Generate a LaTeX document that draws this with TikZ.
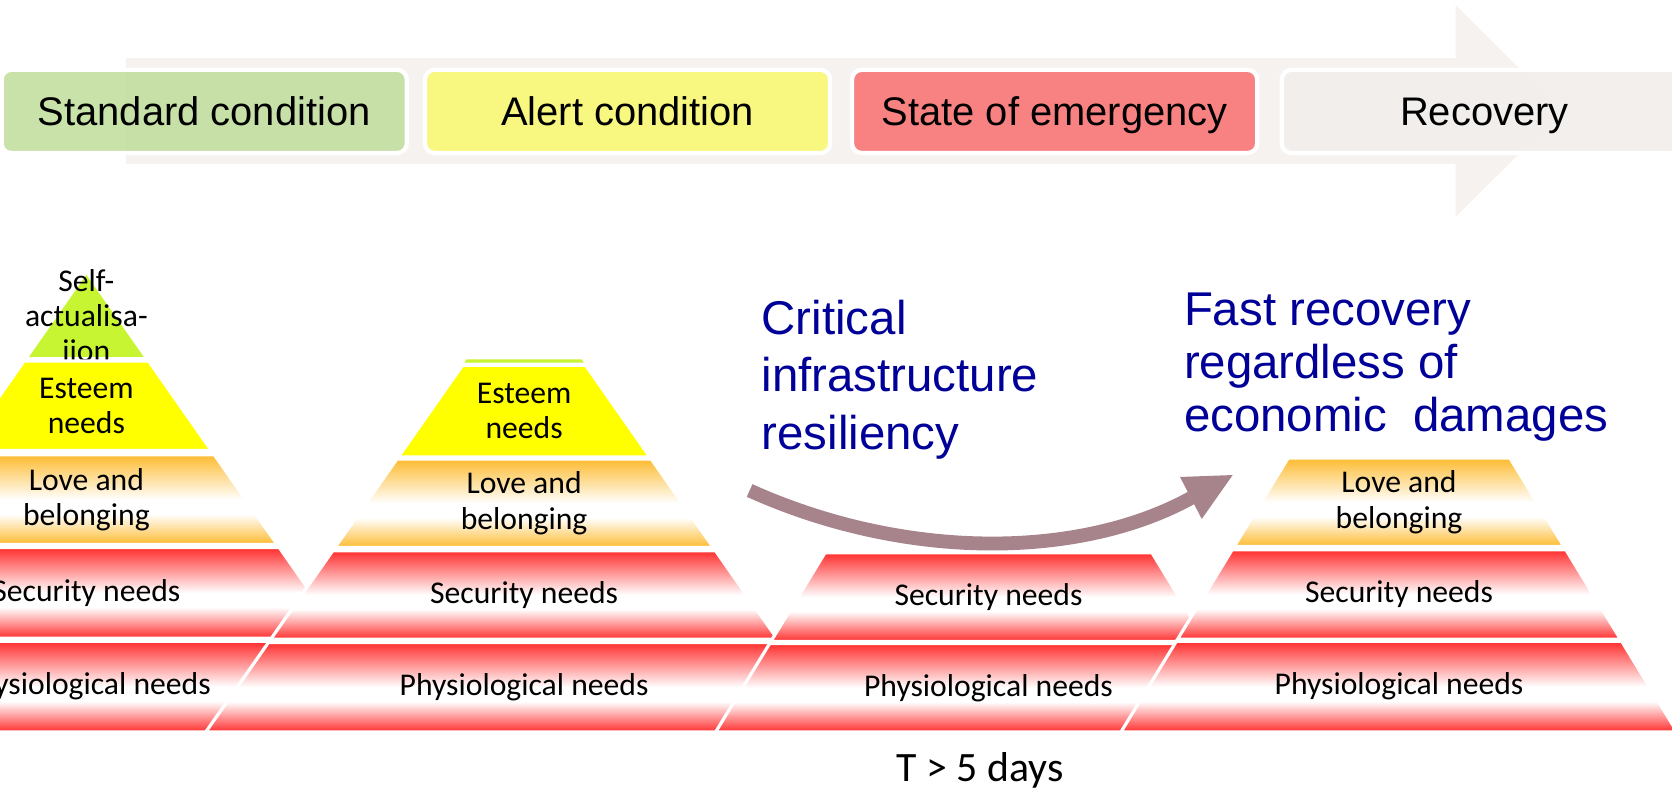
\documentclass[tikz,border=0pt]{standalone}
\usepackage{fontspec}
\setmainfont{Carlito}
\newfontfamily\arialfont{Liberation Sans}
\usepackage{tikz}

\definecolor{bandred}{HTML}{FF2E2E}
\definecolor{bandorange}{HTML}{FDBB30}
\definecolor{esteemyellow}{HTML}{FFFF00}
\definecolor{selfgreen}{HTML}{C8F532}
\definecolor{stdgreen}{HTML}{C3DFA2}
\definecolor{alertyellow}{HTML}{F9F877}
\definecolor{emergred}{HTML}{F97979}
\definecolor{recovgray}{HTML}{F1EEEC}
\definecolor{bannergray}{HTML}{F5F2F0}
\definecolor{textblue}{HTML}{000099}
\definecolor{bendarrow}{HTML}{A7838C}

\pgfdeclareverticalshading{redshade}{100bp}{color(0bp)=(bandred); color(25bp)=(bandred);
  color(42bp)=(white); color(50bp)=(white); color(75bp)=(bandred); color(100bp)=(bandred)}
\pgfdeclareverticalshading{orangeshade}{100bp}{color(0bp)=(bandorange); color(25bp)=(bandorange);
  color(42bp)=(white); color(50bp)=(white); color(75bp)=(bandorange); color(100bp)=(bandorange)}

% one band of a pyramid: axis, apex, slope, top, bottom, style, name, text
\newcommand{\pyrlayer}[8]{%
  \path[#6] ({#1-#3*(#4-#2)},#4) -- ({#1+#3*(#4-#2)},#4) -- ({#1+#3*(#5-#2)},#5)
    -- ({#1-#3*(#5-#2)},#5) -- cycle;
  \node[lbl] (#7) at (#1,{(#4+#5)/2}) {#8};}

\tikzset{
  layer/.style={draw=white, line width=0.06cm},
  redlayer/.style={layer, shade, shading=redshade},
  orangelayer/.style={layer, shade, shading=orangeshade},
  esteemlayer/.style={layer, fill=esteemyellow},
  selflayer/.style={layer, fill=selfgreen},
  lbl/.style={font=\fontsize{16.9}{18.8}\selectfont, align=center, inner sep=0pt},
  stage/.style={draw=white, line width=0.08cm, rounded corners=0.18cm,
    minimum width=7.6cm, minimum height=1.56cm, inner sep=0pt,
    text height=15.4pt, text depth=0pt, fill opacity=0.92, text opacity=1,
    font=\arialfont\fontsize{21.3}{25}\selectfont},
  bluetext/.style={text=textblue, align=left, inner sep=0pt, anchor=north west}
}

\begin{document}
\begin{tikzpicture}[x=0.02cm,y=-0.02cm]
\useasboundingbox (0,0) rectangle (1568,742);

% timeline
\fill[bannergray] (118,54.5) -- (1365,54.5) -- (1365,4.7) -- (1465,104) -- (1365,203.5)
  -- (1365,154) -- (118,154) -- cycle;
\node[stage, fill=stdgreen] (standard) at (191.5,104.5) {Standard condition};
\node[stage, fill=alertyellow] (alert) at (588.5,104.5) {Alert condition};
\node[stage, fill=emergred] (emergency) at (989,104.5) {State of emergency};
\node[stage, fill=recovgray] (recovery) at (1392,104.5) {Recovery};

% pyramids
\pyrlayer{81}{255}{0.7}{255}{336.5}{selflayer}{selfA}{Self-\\actualisa-\\iion}
\pyrlayer{81}{255}{0.7}{338.5}{422.5}{esteemlayer}{esteemA}{Esteem\\needs}
\pyrlayer{81}{255}{0.7}{426.5}{510.5}{orangelayer}{loveA}{Love and\\belonging}
\pyrlayer{81}{255}{0.7}{513.5}{598.5}{redlayer}{securityA}{Security needs}
\pyrlayer{81}{255}{0.7}{601.5}{686.5}{redlayer}{physioA}{Physiological needs}

\fill[selfgreen] ({491.5-0.7*77},337) -- ({491.5+0.7*77},337) -- ({491.5+0.7*80},340)
  -- ({491.5-0.7*80},340) -- cycle;
\pyrlayer{491.5}{260}{0.7}{342.5}{428.5}{esteemlayer}{esteemB}{Esteem\\needs}
\pyrlayer{491.5}{260}{0.7}{430.5}{513.5}{orangelayer}{loveB}{Love and\\belonging}
\pyrlayer{491.5}{260}{0.7}{516.5}{599.5}{redlayer}{securityB}{Security needs}
\pyrlayer{491.5}{260}{0.7}{602.5}{686.5}{redlayer}{physioB}{Physiological needs}

\pyrlayer{927}{267}{0.61}{518.5}{601.5}{redlayer}{securityC}{Security needs}
\pyrlayer{927}{267}{0.61}{603.5}{686.5}{redlayer}{physioC}{Physiological needs}

\pyrlayer{1312}{259}{0.61}{429.5}{512.5}{orangelayer}{loveD}{Love and\\belonging}
\pyrlayer{1312}{259}{0.61}{515.5}{599.5}{redlayer}{securityD}{Security needs}
\pyrlayer{1312}{259}{0.61}{601.5}{686.5}{redlayer}{physioD}{Physiological needs}

% captions
\node[bluetext, font=\arialfont\fontsize{25.3}{30.7}\selectfont] (critical) at (714,281)
  {Critical\\infrastructure\\resiliency};
\node[bluetext, font=\arialfont\fontsize{25.3}{28.2}\selectfont] (fast) at (1110,274.6)
  {Fast recovery\\regardless of\\economic\ \ damages};
\node[font=\fontsize{22.3}{26}\selectfont, anchor=base] (duration) at (919,733) {T > 5 days};

% bent arrow
\coordinate (tail) at (703,460);
\coordinate (headbase) at (1117,467);
\coordinate (tip) at (1156,445.5);
\coordinate (wingup) at (1106.6,447.3);
\coordinate (wingdown) at (1127,486.7);
\draw[bendarrow, line width=0.26cm] (tail) .. controls (848.6,525.6) and (1012,524.6) .. (headbase);
\fill[bendarrow] (wingup) -- (tip) -- (wingdown) -- cycle;
\end{tikzpicture}
\end{document}
